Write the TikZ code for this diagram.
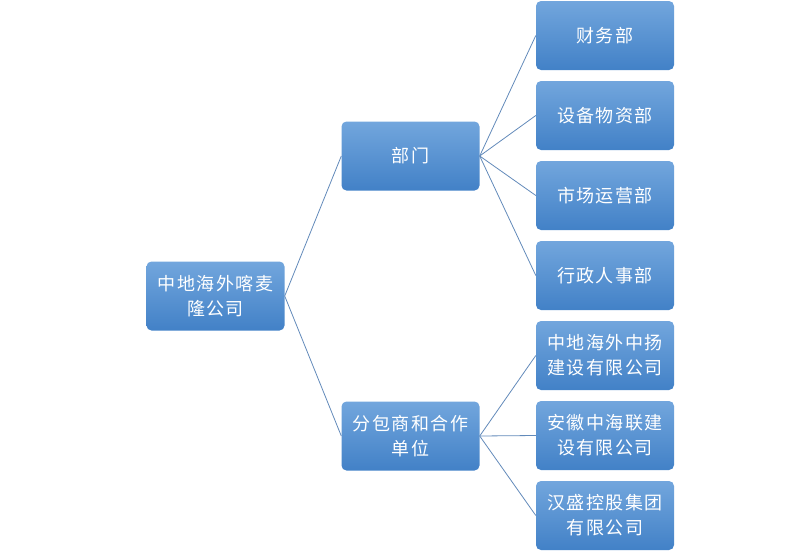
\documentclass[tikz,border=0pt]{standalone}
\usepackage{fontspec}
\setmainfont{Noto Sans CJK SC}[LetterSpace=8]
\usepackage{tikz}
\definecolor{boxtop}{RGB}{114,166,221}
\definecolor{boxbottom}{RGB}{66,129,199}
\definecolor{linkblue}{RGB}{98,138,186}

\begin{document}
\begin{tikzpicture}[x=1pt,y=-1pt,
  orgbox/.style={rectangle,rounded corners=5pt,top color=boxtop,bottom color=boxbottom,
    minimum width=138pt,minimum height=69pt,inner sep=0pt,text=white,align=center,
    font=\fontsize{18}{25}\selectfont},
  link/.style={draw=linkblue,line width=0.8pt}]
\useasboundingbox (0,0) rectangle (794,554);

% root and the two groups
\node[orgbox] (root) at (215.5,296) {中地海外喀麦\\隆公司};
\node[orgbox] (dept) at (410.5,156) {部门};
\node[orgbox] (sub) at (410.5,436) {分包商和合作\\单位};

% departments
\node[orgbox] (fin) at (605,35.5) {财务部};
\node[orgbox] (equip) at (605,115.5) {设备物资部};
\node[orgbox] (market) at (605,195.5) {市场运营部};
\node[orgbox] (admin) at (605,275.5) {行政人事部};

% subcontractors
\node[orgbox] (zhongyang) at (605,355.5) {中地海外中扬\\建设有限公司};
\node[orgbox] (anhui) at (605,435.5) {安徽中海联建\\设有限公司};
\node[orgbox] (hansheng) at (605,515.5) {汉盛控股集团\\有限公司};

\draw[link] (root.east) -- (dept.west);
\draw[link] (root.east) -- (sub.west);
\draw[link] (dept.east) -- (fin.west);
\draw[link] (dept.east) -- (equip.west);
\draw[link] (dept.east) -- (market.west);
\draw[link] (dept.east) -- (admin.west);
\draw[link] (sub.east) -- (zhongyang.west);
\draw[link] (sub.east) -- (anhui.west);
\draw[link] (sub.east) -- (hansheng.west);

\end{tikzpicture}
\end{document}
